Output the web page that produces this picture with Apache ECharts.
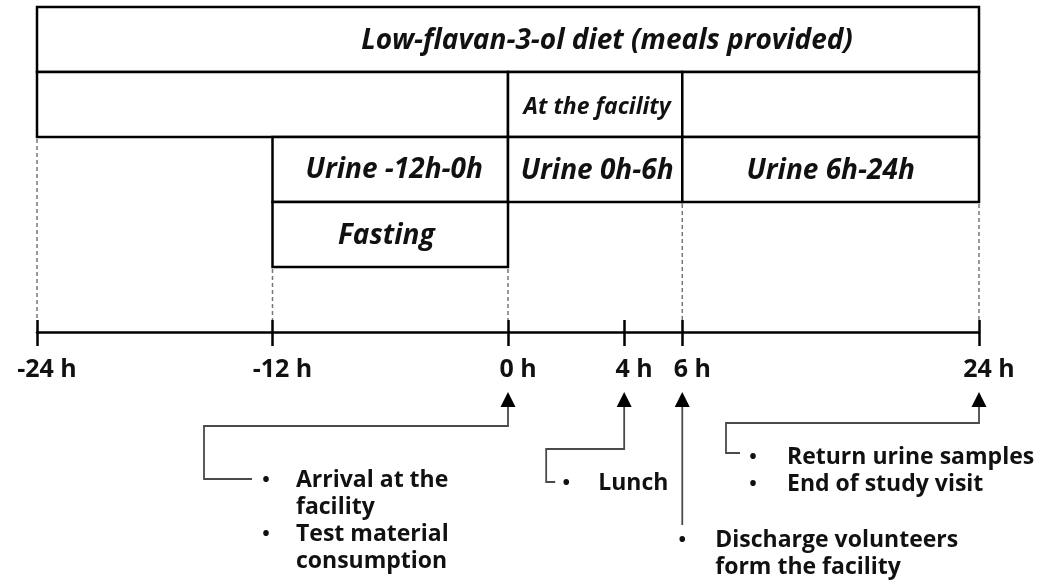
<!DOCTYPE html>
<html>
<head>
<meta charset="utf-8">
<script src="https://cdn.jsdelivr.net/npm/echarts@6/dist/echarts.min.js"></script>
<style>
  html, body { margin: 0; padding: 0; background: #fff; }
  #main { width: 1042px; height: 584px; }
</style>
</head>
<body>
<div id="main"></div>
<script>
// study timeline, hours relative to test material intake
const tickHours = [-24, -12, 0, 4, 6, 24];
const tickLabels = ['-24 h', '-12 h', '0 h', '4 h', '6 h', '24 h'];

const boxNames = ['Low-flavan-3-ol diet (meals provided)', '', 'At the facility', '',
  'Urine -12h-0h', 'Urine 0h-6h', 'Urine 6h-24h', 'Fasting'];
const boxStart = [-24, -24, 0, 6, -12, 0, 6, -12];
const boxEnd = [24, 0, 6, 24, 0, 6, 24, 0];
const boxRow = [0, 1, 1, 1, 2, 2, 2, 3];

const eventHours = [0, 4, 6, 24];
const eventNotes = [
  [['Arrival at the', 'facility'], ['Test material', 'consumption']],
  [['Lunch']],
  [['Discharge volunteers', 'form the facility']],
  [['Return urine samples'], ['End of study visit']]
];

// the drawn time axis is not linear, the first 6 h are stretched
const segStart = [-24, 0, 6];
const segScale = [1, 1.48, 0.84];
function warp(h) {
  let v = 0;
  for (let i = 0; i < segStart.length; i++) {
    const a = segStart[i];
    const b = i + 1 < segStart.length ? segStart[i + 1] : Infinity;
    if (h <= a) break;
    v += (Math.min(h, b) - a) * segScale[i];
  }
  return v;
}
const xMax = warp(24);

const FONT = '"Open Sans", Lato, sans-serif';
const INK = '#111';

// layout bits (pixels), not data
const boxText = {
  0: { size: 28, dx: 99, dy: 2 },
  2: { size: 23, dx: 2, dy: 3 },
  4: { size: 28, dx: 4, dy: 1 },
  5: { size: 28, dx: 2, dy: 2 },
  6: { size: 28, dx: 0, dy: 2 },
  7: { size: 28, dx: -4, dy: 2 }
};
const callout = [
  { elbowY: 426, leftDx: -304, endY: 479, rightDx: -256, bulletDx: -242, textDx: -212, textY: 480 },
  { elbowY: 449, leftDx: -78, endY: 482, rightDx: -69, bulletDx: -58, textDx: -26, textY: 483 },
  { elbowY: null, endY: 525, bulletDx: 0, textDx: 33, textY: 540 },
  { elbowY: 423, leftDx: -253, endY: 453, rightDx: -239, bulletDx: -226, textDx: -192, textY: 457 }
];
const lineGap = 27;

// dashed guides drop from the lowest box edge at each tick
const guideHours = [];
const guideRow = [];
tickHours.forEach(function (h) {
  let r = -1;
  boxStart.forEach(function (s, i) {
    if (s === h || boxEnd[i] === h) r = Math.max(r, boxRow[i] + 1);
  });
  if (r >= 0) { guideHours.push(h); guideRow.push(r); }
});

const chart = echarts.init(document.getElementById('main'));

const tickVals = tickHours.map(warp);
function labelOf(v) {
  const i = tickVals.findIndex(function (t) { return Math.abs(t - v) < 1e-6; });
  return i >= 0 ? tickLabels[i] : '';
}

const option = {
  animation: false,
  backgroundColor: '#fff',
  grid: [
    { left: 37, right: 63, top: 7, height: 325 },
    { left: 37, right: 63, top: 332, height: 252 }
  ],
  xAxis: [
    {
      gridIndex: 0, type: 'value', min: 0, max: xMax, position: 'bottom',
      axisLine: { onZero: false, lineStyle: { color: '#000', width: 2.5 } },
      axisTick: { customValues: tickVals, length: 14, lineStyle: { color: '#000', width: 2.5 } },
      axisLabel: {
        customValues: tickVals, formatter: labelOf, margin: 25,
        fontSize: 25, fontWeight: 'bold', fontFamily: FONT, color: INK,
        padding: [0, 0, 0, 20]
      },
      splitLine: { show: false }
    },
    {
      gridIndex: 0, type: 'value', min: 0, max: xMax, position: 'bottom',
      axisLine: { show: false, onZero: false },
      axisTick: { customValues: tickVals, inside: true, length: 12, lineStyle: { color: '#000', width: 2.5 } },
      axisLabel: { show: false },
      splitLine: { show: false }
    },
    { gridIndex: 1, type: 'value', min: 0, max: xMax, show: false }
  ],
  yAxis: [
    { gridIndex: 0, type: 'value', min: 0, max: 5, inverse: true, show: false },
    { gridIndex: 1, type: 'value', min: 332, max: 584, inverse: true, show: false }
  ],
  series: [
    {
      type: 'custom',
      xAxisIndex: 0, yAxisIndex: 0,
      clip: false,
      data: guideHours.map(function (h, i) { return [warp(h), guideRow[i]]; }),
      renderItem: function (params, api) {
        const p0 = api.coord([api.value(0), api.value(1)]);
        const p1 = api.coord([api.value(0), 5]);
        return {
          type: 'line',
          shape: { x1: p0[0], y1: p0[1] + 2, x2: p1[0], y2: p1[1] - 12 },
          style: { stroke: '#777', lineWidth: 1.5, lineDash: [4, 3] }
        };
      }
    },
    {
      type: 'custom',
      xAxisIndex: 0, yAxisIndex: 0,
      clip: false,
      data: boxNames.map(function (n, i) {
        return [warp(boxStart[i]), warp(boxEnd[i]), boxRow[i], i];
      }),
      renderItem: function (params, api) {
        const i = api.value(3);
        const p0 = api.coord([api.value(0), api.value(2)]);
        const p1 = api.coord([api.value(1), api.value(2) + 1]);
        const kids = [{
          type: 'rect',
          shape: { x: p0[0], y: p0[1], width: p1[0] - p0[0], height: p1[1] - p0[1] },
          style: { fill: '#fff', stroke: '#000', lineWidth: 2.5 }
        }];
        const t = boxText[i];
        if (boxNames[i] && t) {
          kids.push({
            type: 'text',
            style: {
              text: boxNames[i],
              x: (p0[0] + p1[0]) / 2 + t.dx,
              y: (p0[1] + p1[1]) / 2 + t.dy,
              align: 'center', verticalAlign: 'middle',
              fontSize: t.size, fontWeight: 'bold', fontStyle: 'italic',
              fontFamily: FONT, fill: INK
            }
          });
        }
        return { type: 'group', children: kids };
      }
    },
    {
      type: 'custom',
      xAxisIndex: 2, yAxisIndex: 1,
      clip: false,
      data: eventHours.map(function (h, i) { return [warp(h), 392, i]; }),
      renderItem: function (params, api) {
        const i = api.value(2);
        const c = callout[i];
        const tip = api.coord([api.value(0), api.value(1)]);
        const ax = tip[0];
        const ty = tip[1];
        const pts = [[ax, ty + 13]];
        if (c.elbowY !== null) {
          pts.push([ax, c.elbowY], [ax + c.leftDx, c.elbowY],
            [ax + c.leftDx, c.endY], [ax + c.rightDx, c.endY]);
        } else {
          pts.push([ax, c.endY]);
        }
        const kids = [
          {
            type: 'polyline',
            shape: { points: pts },
            style: { stroke: '#4a4a4a', lineWidth: 1.8, fill: null }
          },
          {
            type: 'polygon',
            shape: { points: [[ax, ty], [ax - 7.5, ty + 15], [ax + 7.5, ty + 15]] },
            style: { fill: '#000' }
          }
        ];
        let line = 0;
        eventNotes[i].forEach(function (item) {
          const y0 = c.textY + line * lineGap;
          kids.push({
            type: 'text',
            style: {
              text: '\u2022', x: ax + c.bulletDx, y: y0,
              align: 'center', verticalAlign: 'middle',
              fontSize: 20, fontWeight: 'bold', fontFamily: FONT, fill: INK
            }
          });
          item.forEach(function (s) {
            kids.push({
              type: 'text',
              style: {
                text: s, x: ax + c.textDx, y: c.textY + line * lineGap,
                align: 'left', verticalAlign: 'middle',
                fontSize: 23, fontWeight: 'bold', fontFamily: FONT, fill: INK
              }
            });
            line++;
          });
        });
        return { type: 'group', children: kids };
      }
    }
  ]
};

chart.setOption(option);
</script>
</body>
</html>
